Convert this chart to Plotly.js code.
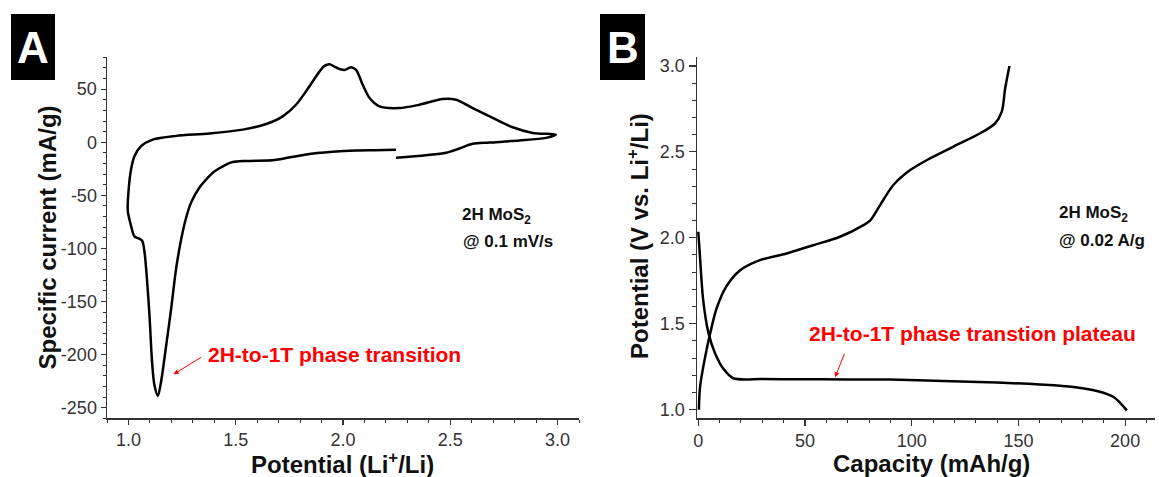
<!DOCTYPE html>
<html>
<head>
<meta charset="utf-8">
<script src="https://cdn.plot.ly/plotly-3.0.1.min.js"></script>
<style>html,body{margin:0;padding:0;background:#fff;}#chart{width:1159px;height:477px;}</style>
</head>
<body>
<div id="chart"></div>
<script>
// ---- Panel A: cyclic voltammogram ----
const cvPotential = [2.247, 2.150, 2.061, 1.952, 1.828, 1.719, 1.672, 1.548, 1.486, 1.455, 1.420, 1.393, 1.377, 1.331, 1.292, 1.269, 1.246, 1.222, 1.199, 1.176, 1.152, 1.137, 1.121, 1.110, 1.098, 1.085, 1.075, 1.064, 1.048, 1.028, 1.012, 0.997, 1.001, 1.012, 1.028, 1.059, 1.113, 1.222, 1.377, 1.533, 1.642, 1.719, 1.781, 1.843, 1.890, 1.914, 1.937, 1.960, 1.983, 2.007, 2.038, 2.061, 2.092, 2.124, 2.170, 2.263, 2.356, 2.465, 2.527, 2.604, 2.698, 2.791, 2.884, 2.993, 2.946, 2.822, 2.683, 2.604, 2.542, 2.480, 2.387, 2.247];
const cvCurrent = [-7.1, -7.5, -7.8, -9.0, -11.5, -15.6, -16.9, -17.6, -18.6, -21.0, -25.0, -28.7, -31.9, -42.7, -56.8, -70.9, -91.2, -119.3, -156.8, -191.2, -225.5, -239.0, -228.7, -206.8, -163.1, -125.6, -103.7, -92.8, -90.6, -88.7, -78.7, -64.7, -44.3, -25.6, -13.1, -3.7, 2.5, 6.0, 8.2, 11.9, 17.2, 24.4, 35.3, 52.5, 66.5, 71.9, 73.5, 71.2, 69.1, 68.1, 70.7, 68.1, 54.1, 41.6, 33.7, 32.2, 35.3, 40.7, 40.0, 32.2, 22.9, 14.1, 8.8, 7.2, 4.1, 1.6, -0.3, -1.5, -5.9, -9.9, -12.2, -14.6];

// ---- Panel B: galvanostatic charge / discharge ----
const chargeCapacity = [0.3, 0.8, 3.1, 5.5, 8.6, 13.3, 19.5, 28.9, 41.4, 53.9, 66.4, 77.4, 80.5, 85.2, 91.4, 99.3, 108.6, 121.1, 132.1, 139.1, 142.2, 143.8, 145.8];
const chargeVoltage = [1.0, 1.13, 1.30, 1.44, 1.59, 1.72, 1.81, 1.870, 1.909, 1.957, 2.006, 2.074, 2.10, 2.19, 2.307, 2.394, 2.462, 2.540, 2.608, 2.666, 2.734, 2.870, 3.0];
const dischargeCapacity = [0, 0.8, 2.3, 4.7, 7.8, 11.7, 16.4, 30, 43, 70, 89.9, 114.9, 139.9, 160.2, 175.8, 186.8, 194.6, 200.8];
const dischargeVoltage = [2.035, 1.889, 1.637, 1.45, 1.33, 1.239, 1.183, 1.178, 1.177, 1.176, 1.175, 1.167, 1.158, 1.146, 1.132, 1.109, 1.074, 0.996];

// ---- tick labels ----
const aXTicks = [1.0, 1.5, 2.0, 2.5, 3.0];
const aXTickText = ["1.0", "1.5", "2.0", "2.5", "3.0"];
const aYTicks = [-250, -200, -150, -100, -50, 0, 50];
const aYTickText = ["-250", "-200", "-150", "-100", "-50", "0", "50"];
const bXTicks = [0, 50, 100, 150, 200];
const bXTickText = ["0", "50", "100", "150", "200"];
const bYTicks = [1.0, 1.5, 2.0, 2.5, 3.0];
const bYTickText = ["1.0", "1.5", "2.0", "2.5", "3.0"];

const W = 1159, H = 477;
const PX = x => x / W;
const PY = y => 1 - y / H;
const FONT = "Liberation Sans, Arial, sans-serif";

const lineStyle = {color: "#000", width: 2.5, shape: "spline", smoothing: 0.85};

const traces = [
  {x: cvPotential, y: cvCurrent, type: "scatter", mode: "lines", line: lineStyle, xaxis: "x", yaxis: "y", hoverinfo: "skip"},
  {x: chargeCapacity, y: chargeVoltage, type: "scatter", mode: "lines", line: lineStyle, xaxis: "x2", yaxis: "y2", hoverinfo: "skip"},
  {x: dischargeCapacity, y: dischargeVoltage, type: "scatter", mode: "lines", line: lineStyle, xaxis: "x2", yaxis: "y2", hoverinfo: "skip"}
];

function axisBase(extra) {
  return Object.assign({
    showgrid: false, zeroline: false, showline: true, linecolor: "#333", linewidth: 1.5,
    ticks: "outside", ticklen: 5, tickwidth: 1.2, tickcolor: "#333",
    tickfont: {family: FONT, size: 18, color: "#333"},
    tickmode: "array", fixedrange: true
  }, extra);
}

const yDom = [PY(418.3), PY(57.3)];

const layout = {
  width: W, height: H,
  margin: {l: 0, r: 0, t: 0, b: 0},
  paper_bgcolor: "#fff", plot_bgcolor: "#fff",
  showlegend: false,
  font: {family: FONT},
  xaxis: axisBase({domain: [PX(107), PX(579)], range: [0.9, 3.1], anchor: "y",
    tickvals: aXTicks, ticktext: aXTickText,
    minor: {dtick: 0.1, tick0: 0.9, ticks: "outside", ticklen: 3, tickcolor: "#333", tickwidth: 1}}),
  yaxis: axisBase({domain: yDom, range: [-260, 80], anchor: "x",
    tickvals: aYTicks, ticktext: aYTickText,
    minor: {dtick: 10, tick0: 0, ticks: "outside", ticklen: 3, tickcolor: "#333", tickwidth: 1}}),
  xaxis2: axisBase({domain: [PX(697), PX(1155)], range: [-0.6, 214], anchor: "y2",
    tickvals: bXTicks, ticktext: bXTickText, ticklen: 6,
    minor: {dtick: 10, tick0: 0, ticks: "outside", ticklen: 3.5, tickcolor: "#333", tickwidth: 1}}),
  yaxis2: axisBase({domain: yDom, range: [0.95, 3.05], anchor: "x2",
    tickvals: bYTicks, ticktext: bYTickText, ticklen: 7,
    minor: {dtick: 0.1, tick0: 1.0, ticks: "outside", ticklen: 4, tickcolor: "#333", tickwidth: 1}}),
  shapes: [
    {type: "rect", xref: "paper", yref: "paper", x0: PX(11), x1: PX(55), y0: PY(80), y1: PY(14), fillcolor: "#000", line: {width: 0}},
    {type: "rect", xref: "paper", yref: "paper", x0: PX(600), x1: PX(645), y0: PY(80), y1: PY(14), fillcolor: "#000", line: {width: 0}}
  ],
  annotations: [
    // panel letters
    {text: "<b>A</b>", xref: "paper", yref: "paper", x: PX(33), y: PY(47), xanchor: "center", yanchor: "middle", showarrow: false, font: {family: FONT, size: 44, color: "#fff"}},
    {text: "<b>B</b>", xref: "paper", yref: "paper", x: PX(622.5), y: PY(47), xanchor: "center", yanchor: "middle", showarrow: false, font: {family: FONT, size: 44, color: "#fff"}},
    // axis titles
    {text: "<b>Specific current (mA/g)</b>", xref: "paper", yref: "paper", x: PX(47), y: PY(237.5), xanchor: "center", yanchor: "middle", textangle: -90, showarrow: false, font: {family: FONT, size: 24, color: "#111"}},
    {text: "<b>Potential (Li<sup>+</sup>/Li)</b>", xref: "paper", yref: "paper", x: PX(342.5), y: PY(462.5), xanchor: "center", yanchor: "middle", showarrow: false, font: {family: FONT, size: 24, color: "#111"}},
    {text: "<b>Potential (V vs. Li<sup>+</sup>/Li)</b>", xref: "paper", yref: "paper", x: PX(638.5), y: PY(236.5), xanchor: "center", yanchor: "middle", textangle: -90, showarrow: false, font: {family: FONT, size: 24, color: "#111"}},
    {text: "<b>Capacity (mAh/g)</b>", xref: "paper", yref: "paper", x: PX(931), y: PY(463), xanchor: "center", yanchor: "middle", showarrow: false, font: {family: FONT, size: 24, color: "#111"}},
    // sample notes
    {text: "<b>2H MoS<sub>2</sub></b>", xref: "paper", yref: "paper", x: PX(460), y: PY(216), xanchor: "left", yanchor: "middle", showarrow: false, font: {family: FONT, size: 17, color: "#111"}},
    {text: "<b>@ 0.1 mV/s</b>", xref: "paper", yref: "paper", x: PX(461), y: PY(241), xanchor: "left", yanchor: "middle", showarrow: false, font: {family: FONT, size: 17, color: "#111"}},
    {text: "<b>2H MoS<sub>2</sub></b>", xref: "paper", yref: "paper", x: PX(1057), y: PY(214), xanchor: "left", yanchor: "middle", showarrow: false, font: {family: FONT, size: 17, color: "#111"}},
    {text: "<b>@ 0.02 A/g</b>", xref: "paper", yref: "paper", x: PX(1057), y: PY(240), xanchor: "left", yanchor: "middle", showarrow: false, font: {family: FONT, size: 17, color: "#111"}},
    // red callouts
    {text: "<b>2H-to-1T phase transition</b>", xref: "paper", yref: "paper", x: PX(206), y: PY(354), xanchor: "left", yanchor: "middle", showarrow: false, font: {family: FONT, size: 21, color: "#ff0000"}},
    {text: "", xref: "x", yref: "y", x: 1.2105, y: -218.6, ax: 29, ay: -18, showarrow: true, arrowhead: 2, arrowsize: 1, arrowwidth: 1, arrowcolor: "#ff0000"},
    {text: "<b>2H-to-1T phase transtion plateau</b>", xref: "paper", yref: "paper", x: PX(807), y: PY(333), xanchor: "left", yanchor: "middle", showarrow: false, font: {family: FONT, size: 21, color: "#ff0000"}},
    {text: "", xref: "x2", yref: "y2", x: 64.1, y: 1.189, ax: 10, ay: -25, showarrow: true, arrowhead: 2, arrowsize: 1, arrowwidth: 1, arrowcolor: "#ff0000"}
  ]
};

Plotly.newPlot("chart", traces, layout, {staticPlot: true, displayModeBar: false});
</script>
</body>
</html>
